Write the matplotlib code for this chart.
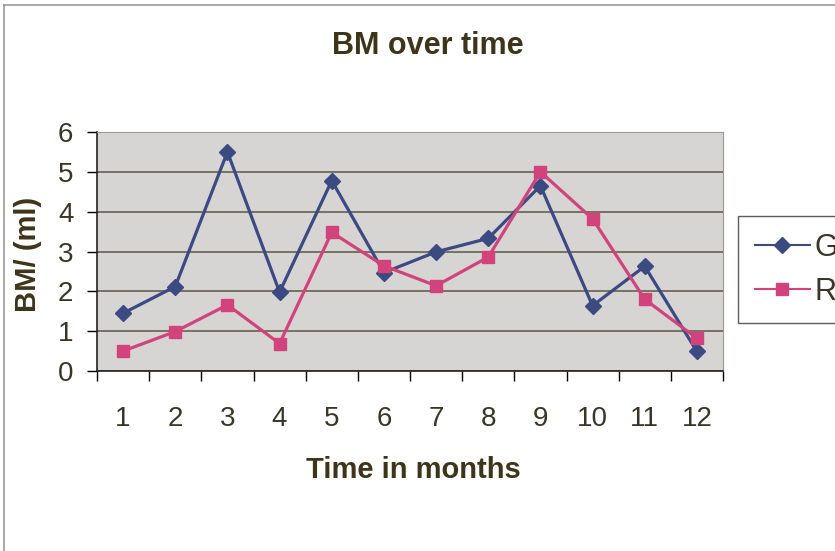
import numpy as np
import matplotlib
matplotlib.use('Agg')
import matplotlib.pyplot as plt
from matplotlib.lines import Line2D

months = list(range(1, 13))
g_vals = [1.45, 2.12, 5.5, 1.98, 4.78, 2.47, 2.99, 3.33, 4.65, 1.64, 2.63, 0.49]
r_vals = [0.5, 0.99, 1.66, 0.69, 3.48, 2.64, 2.14, 2.86, 5.0, 3.82, 1.8, 0.82]
y_ticks = [0, 1, 2, 3, 4, 5, 6]

plt.rcParams['font.family'] = ['Liberation Sans', 'DejaVu Sans']
title_col = '#3d341a'
tick_col = '#3a3528'

fig = plt.figure(figsize=(8.35, 5.51), dpi=100)
ax = fig.add_axes([97/835, 1-371/551, (723-97)/835, (371-132)/551])
ax.set_facecolor('#d6d5d3')

ax.plot(months, g_vals, color='#3c4a82', lw=2.3, marker='D', ms=8, label='G', zorder=3)
ax.plot(months, r_vals, color='#d2437c', lw=2.3, marker='s', ms=8, label='R', zorder=3)

ax.set_xlim(0.5, 12.5)
ax.set_ylim(0, 6)
ax.set_yticks(y_ticks)
ax.set_xticks(months)
ax.set_xticks(np.arange(0.5, 13, 1), minor=True)
ax.tick_params(axis='x', which='major', length=0, pad=25, labelsize=20, labelcolor=tick_col)
ax.tick_params(axis='x', which='minor', length=7, width=1, direction='out')
ax.tick_params(axis='y', length=7, width=1, direction='out', labelsize=20, pad=10,
               labelcolor=tick_col)
ax.yaxis.grid(True, color='#6e6a5a', lw=1.3)
ax.set_axisbelow(True)
for s in ['top', 'right']:
    ax.spines[s].set_color('#9a9a9a')
for s in ['left', 'bottom']:
    ax.spines[s].set_color('#222222')
    ax.spines[s].set_linewidth(1.2)

ax.set_xlabel('Time in months', fontsize=21, fontweight='bold', color=title_col)
ax.xaxis.set_label_coords(0.505, (371-456)/239)
ax.set_ylabel('BM/ (ml)', fontsize=21, fontweight='bold', color=title_col)
ax.yaxis.set_label_coords((42-97)/626, 0.49)
fig.text(428/835, 1-46/551, 'BM over time', ha='center', va='center',
         fontsize=22, fontweight='bold', color=title_col)

handles = [Line2D([], [], color='#3c4a82', lw=1.5, marker='D', ms=8),
           Line2D([], [], color='#d2437c', lw=1.5, marker='s', ms=8)]
leg = fig.legend(handles, ['G', 'R'], loc='upper left', bbox_to_anchor=(738/835, 1-216/551),
                 borderaxespad=0, fontsize=22, frameon=True, fancybox=False,
                 edgecolor='#333333', handlelength=1.8, handletextpad=0.15,
                 borderpad=0.55, labelspacing=0.45)
leg.get_frame().set_linewidth(1.0)
for t in leg.get_texts():
    t.set_color(tick_col)

# outer chart border
fig.add_artist(Line2D([4/835, 4/835], [0, 1-5/551], color='#999999', lw=1.2))
fig.add_artist(Line2D([4/835, 1], [1-5/551, 1-5/551], color='#999999', lw=1.2))

fig.savefig('out.png', dpi=100)
